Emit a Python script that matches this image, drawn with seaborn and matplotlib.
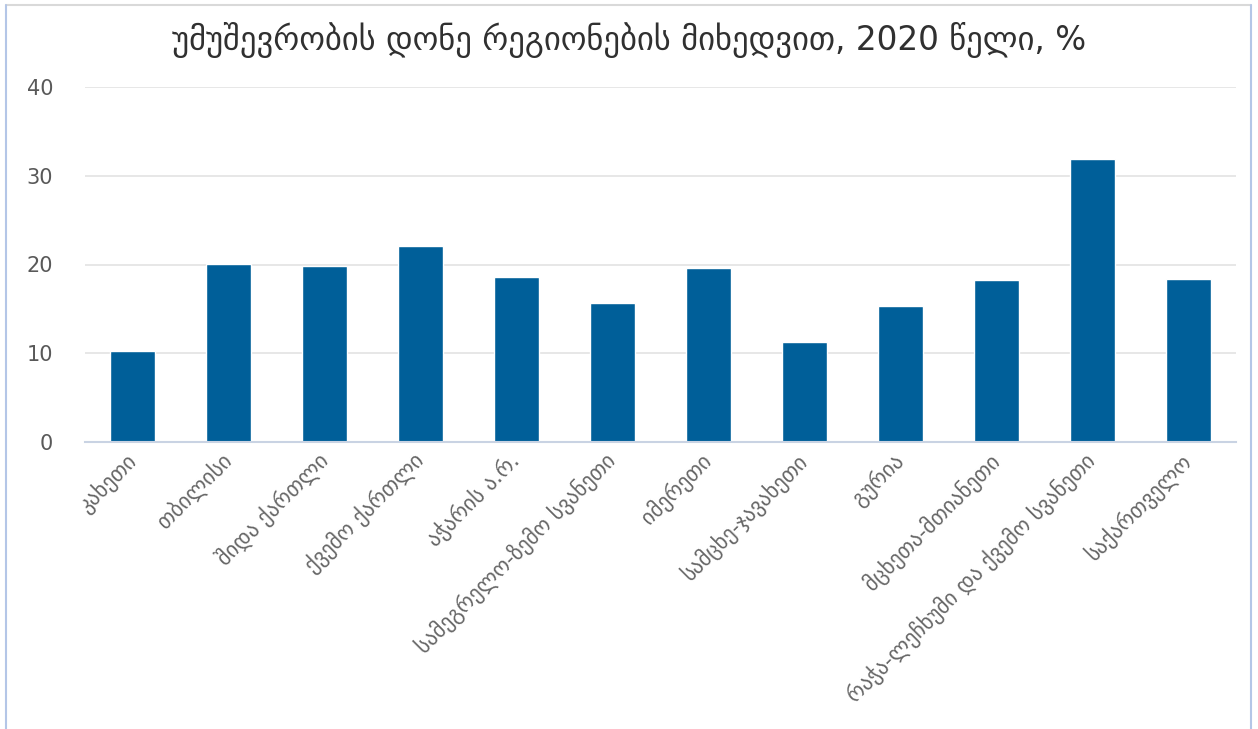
import matplotlib

matplotlib.use("Agg")

import matplotlib.pyplot as plt
import pandas as pd
import seaborn as sns
from matplotlib.lines import Line2D
from matplotlib.transforms import ScaledTranslation

TITLE = "უმუშევრობის დონე რეგიონების მიხედვით, 2020 წელი, %"

regions = [
    "კახეთი",
    "თბილისი",
    "შიდა ქართლი",
    "ქვემო ქართლი",
    "აჭარის ა.რ.",
    "სამეგრელო-ზემო სვანეთი",
    "იმერეთი",
    "სამცხე-ჯავახეთი",
    "გურია",
    "მცხეთა-მთიანეთი",
    "რაჭა-ლეჩხუმი და ქვემო სვანეთი",
    "საქართველო",
]
unemployment = [10.2, 20.1, 19.8, 22.1, 18.6, 15.7, 19.6, 11.3, 15.3, 18.2, 31.9, 18.4]
y_ticks = [0, 10, 20, 30, 40]

BAR = "#005f99"
GRID = "#e3e3e3"
TEXT = "#595959"

df = pd.DataFrame({"region": regions, "rate": unemployment})

sns.set_theme(style="white")
plt.rcParams["font.family"] = ["DejaVu Sans"]

fig = plt.figure(figsize=(12.58, 7.29), dpi=100)
ax = fig.add_axes([85 / 1258, 1 - 442 / 729, (1236 - 85) / 1258, (442 - 87) / 729])

sns.barplot(data=df, x="region", y="rate", color=BAR, width=0.47, saturation=1, ax=ax)

ax.set_ylim(0, 40)
ax.set_xlim(-0.5, len(regions) - 0.5)
ax.set_yticks(y_ticks)
ax.set_yticklabels([str(t) for t in y_ticks], fontsize=15, color=TEXT)
ax.yaxis.grid(True, color=GRID, linewidth=1.2)
ax.set_axisbelow(True)
ax.tick_params(axis="y", length=0, pad=23)
ax.tick_params(axis="x", length=0, pad=5)
ax.set_xticks(range(len(regions)))
ax.set_xticklabels(regions, rotation=45, ha="right", rotation_mode="anchor", fontsize=15.5, color="#666666")
# nudge rotated labels slightly left, like the original
shift = ScaledTranslation(-6 / 72, 0, fig.dpi_scale_trans)
for lbl in ax.get_xticklabels():
    lbl.set_transform(lbl.get_transform() + shift)
for side in ["top", "right", "left"]:
    ax.spines[side].set_visible(False)
ax.spines["bottom"].set_color("#c9d3e3")
ax.spines["bottom"].set_linewidth(1.5)
ax.set_xlabel("")
ax.set_ylabel("")

fig.text(0.5, 1 - 40 / 729, TITLE, ha="center", va="center", fontsize=23.5, color="#303030")

# chart frame
fig.add_artist(Line2D([6 / 1258, 1251 / 1258], [1 - 5 / 729] * 2, color="#d9d9d9", lw=1.5))
fig.add_artist(Line2D([6 / 1258] * 2, [0, 1 - 5 / 729], color="#b4c6e7", lw=1.5))
fig.add_artist(Line2D([1251 / 1258] * 2, [0, 1 - 5 / 729], color="#b4c6e7", lw=1.5))

fig.savefig("out.png", dpi=100)
